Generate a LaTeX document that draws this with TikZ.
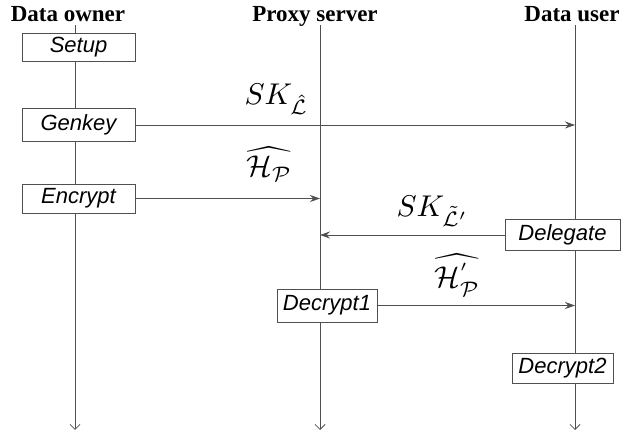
\documentclass[tikz,border=0pt]{standalone}
\usepackage{fontspec}
\usepackage{amsmath}
\setmainfont{Liberation Serif}
\newfontfamily\boxfont{Liberation Sans}
\usetikzlibrary{arrows.meta}
\definecolor{linegray}{HTML}{505050}
\tikzset{
  head/.style={font=\fontsize{23}{26}\selectfont\bfseries, inner sep=0pt, anchor=base},
  stepbox/.style={draw=linegray, line width=0.8pt, fill=white, inner sep=0pt,
    font=\boxfont\itshape\fontsize{22}{24}\selectfont},
  life/.style={draw=linegray, line width=0.8pt, -{Straight Barb[length=5pt,width=10pt]}},
  msg/.style={draw=linegray, line width=0.8pt, -{Stealth[length=10pt,width=7pt]}},
  lab/.style={inner sep=0pt, anchor=base west, scale=3}
}
\begin{document}
\begin{tikzpicture}[x=1pt,y=-1pt]
\useasboundingbox (0,0) rectangle (622,438);
% headers
\node[head] (hown) at (68,22) {Data owner};
\node[head] (hprx) at (315,22) {Proxy server};
\node[head] (husr) at (572,22) {Data user};
% lifeline ends
\coordinate (otop) at (75,25);
\coordinate (obot) at (75,430);
\coordinate (ptop) at (320,25);
\coordinate (pbot) at (320,430);
\coordinate (utop) at (575,25);
\coordinate (ubot) at (575,430);
\draw[life] (otop) -- (obot);
\draw[life] (ptop) -- (pbot);
\draw[life] (utop) -- (ubot);
% boxes
\node[stepbox, minimum width=113pt, minimum height=28pt] (setup) at (78.5,47.5) {Setup};
\node[stepbox, minimum width=113pt, minimum height=33pt] (genkey) at (78.5,125) {Genkey};
\node[stepbox, minimum width=113pt, minimum height=29pt] (encrypt) at (78.5,198.5) {Encrypt};
\node[stepbox, minimum width=115pt, minimum height=31pt] (delegate) at (562.5,235) {Delegate};
\node[stepbox, minimum width=100pt, minimum height=33pt] (decone) at (327,305.5) {Decrypt1};
\node[stepbox, minimum width=101pt, minimum height=30pt] (dectwo) at (562.5,368) {Decrypt2};
% messages
\draw[msg] (genkey.east) -- (genkey.east -| utop);
\draw[msg] (encrypt.east) -- (encrypt.east -| ptop);
\draw[msg] (delegate.west) -- (delegate.west -| ptop);
\draw[msg] (decone.east) -- (decone.east -| utop);
% labels
\node[lab] (l1) at (244,105) {$SK_{\hat{\mathcal{L}}}$};
\node[lab] (l2) at (246,177) {$\widehat{\mathcal{H}_{\mathcal{P}}}$};
\node[lab] (l3) at (396,217) {$SK_{\tilde{\mathcal{L}}'}$};
\node[lab] (l4) at (434,288) {$\widehat{\mathcal{H}^{'}_{\mathcal{P}}}$};
\end{tikzpicture}
\end{document}
